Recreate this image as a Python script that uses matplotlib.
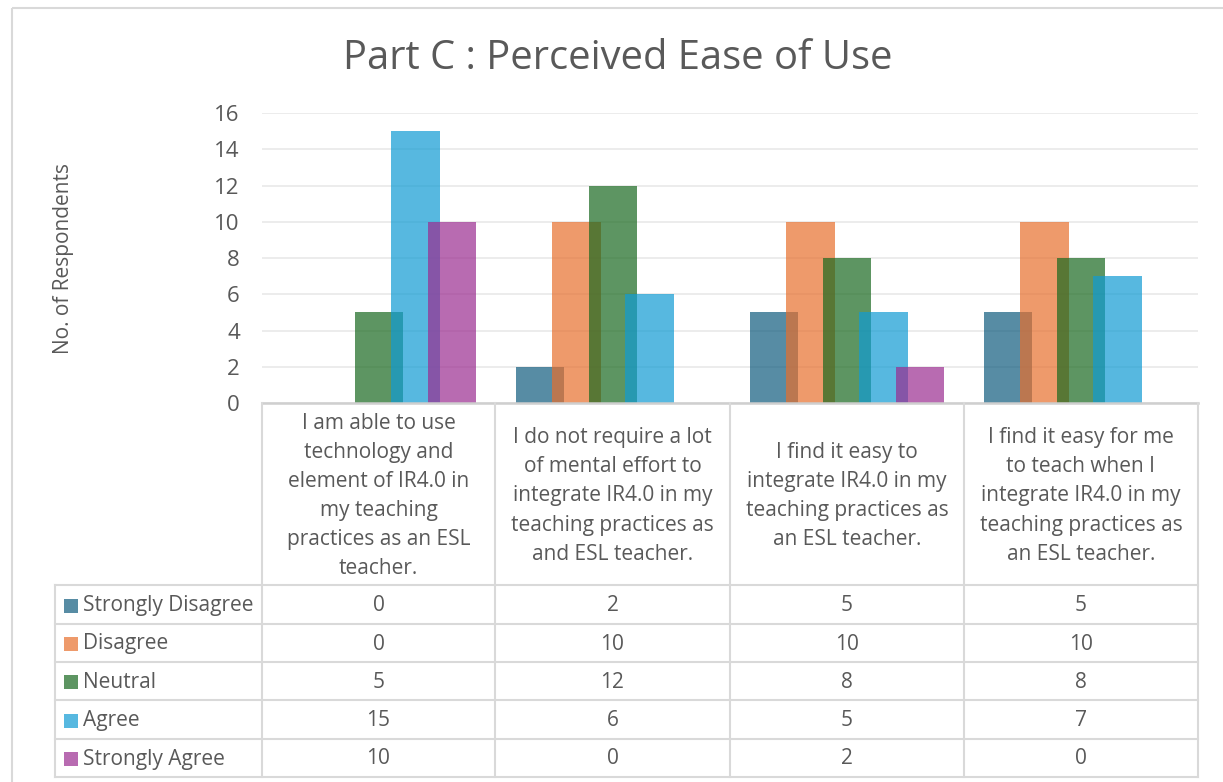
import matplotlib.pyplot as plt
from matplotlib.patches import Rectangle

plt.rcParams['font.family'] = ['Open Sans', 'DejaVu Sans']

# survey statements (x categories)
statements = [
    "I am able to use\ntechnology and\nelement of IR4.0 in\nmy teaching\npractices as an ESL\nteacher.",
    "I do not require a lot\nof mental effort to\nintegrate IR4.0 in my\nteaching practices as\nand ESL teacher.",
    "I find it easy to\nintegrate IR4.0 in my\nteaching practices as\nan ESL teacher.",
    "I find it easy for me\nto teach when I\nintegrate IR4.0 in my\nteaching practices as\nan ESL teacher.",
]
responses = ["Strongly Disagree", "Disagree", "Neutral", "Agree", "Strongly Agree"]

strongly_disagree = [0, 2, 5, 5]
disagree = [0, 10, 10, 10]
neutral = [5, 12, 8, 8]
agree = [15, 6, 5, 7]
strongly_agree = [10, 0, 2, 0]
series = [strongly_disagree, disagree, neutral, agree, strongly_agree]

colors = ["#105b7e", "#e76f2d", "#19691f", "#109bd3", "#9b2c90"]
ALPHA = 0.7
GREY = "#595959"
LINE = "#d9d9d9"

W, H = 1223, 782
fig = plt.figure(figsize=(W / 100, H / 100), dpi=100)

# plot area in pixel coordinates
px_left, px_right, px_top, px_zero = 262, 1198, 113, 403
ax = fig.add_axes([px_left / W, 1 - px_zero / H,
                   (px_right - px_left) / W, (px_zero - px_top) / H])

bar_w, step = 0.208, 0.156
for i, (vals, col) in enumerate(zip(series, colors)):
    xs = [c + 0.5 + (i - 2) * step for c in range(len(statements))]
    ax.bar(xs, vals, width=bar_w, color=col, alpha=ALPHA, linewidth=0, zorder=3)

ax.set_xlim(0, len(statements))
ax.set_ylim(0, 16)
ax.set_yticks(range(0, 17, 2))
ax.set_xticks([])
ax.grid(axis='y', color="#ebebeb", linewidth=1.3, zorder=0)
for s in ax.spines.values():
    s.set_visible(False)
ax.tick_params(axis='y', length=0, pad=16, labelsize=16, labelcolor=GREY)
ax.set_ylabel("No. of Respondents", fontsize=15, color=GREY, labelpad=0)
ax.yaxis.set_label_coords((74 - px_left) / (px_right - px_left), 0.5)

# overlay in pixel units for the data table and frame
ov = fig.add_axes([0, 0, 1, 1])
ov.set_xlim(0, W)
ov.set_ylim(H, 0)
ov.axis('off')
ov.patch.set_alpha(0)

ov.add_patch(Rectangle((12, 8), W, H, fill=False, edgecolor="#d9d9d9", linewidth=1.5))

fig.text(618 / W, 1 - 59 / H, "Part C : Perceived Ease of Use",
         fontsize=28.7, color=GREY, ha='center', va='center')

col_x = [262, 495, 730, 964, 1198]
row_y = [585, 624, 662, 700, 739, 777]
header_top = 403
legend_left = 55

# table grid
ov.plot([col_x[0], col_x[-1]], [header_top, header_top], color="#cfcfcf", lw=1.8)
for x in col_x:
    ov.plot([x, x], [header_top, row_y[-1]], color=LINE, lw=1.5)
for y in row_y:
    ov.plot([legend_left, col_x[-1]], [y, y], color=LINE, lw=1.5)
ov.plot([legend_left, legend_left], [row_y[0], row_y[-1]], color=LINE, lw=1.5)

# statement headers
for j, txt in enumerate(statements):
    ov.text((col_x[j] + col_x[j + 1]) / 2, (header_top + row_y[0]) / 2 + 2, txt,
            ha='center', va='center', fontsize=15, color=GREY, linespacing=1.5)

# legend keys and values
for i, (name, vals, col) in enumerate(zip(responses, series, colors)):
    yc = (row_y[i] + row_y[i + 1]) / 2 + 1
    ov.add_patch(Rectangle((64, yc - 7), 14, 14, facecolor=col, alpha=ALPHA, linewidth=0))
    ov.text(83, yc, name, ha='left', va='center', fontsize=15, color=GREY)
    for j, v in enumerate(vals):
        ov.text((col_x[j] + col_x[j + 1]) / 2, yc, str(v),
                ha='center', va='center', fontsize=15, color=GREY)

fig.savefig("out.png", dpi=100)
